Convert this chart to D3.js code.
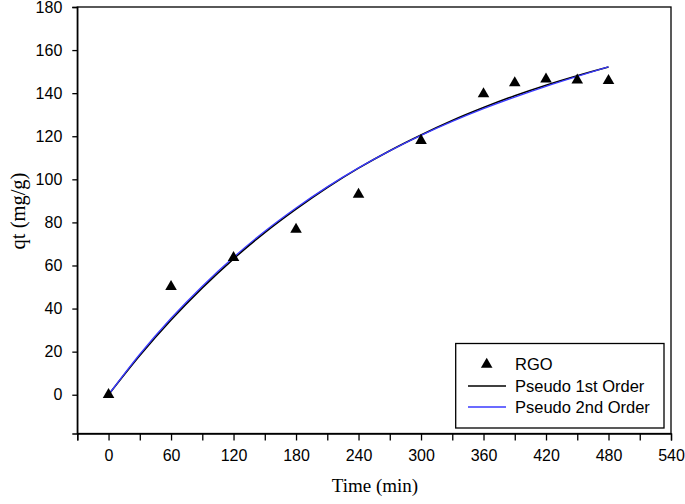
<!DOCTYPE html>
<html><head><meta charset="utf-8">
<script src="https://cdn.jsdelivr.net/npm/d3@7"></script>
<style>body{margin:0;background:#fff}svg{display:block}</style>
</head><body>
<svg id="c" width="685" height="504"></svg>
<script>
// Data
const timeData = [0, 60, 120, 180, 240, 300, 360, 390, 420, 450, 480];
const qtData   = [0, 50.2, 63.6, 76.7, 93.0, 118.0, 139.7, 144.8, 146.5, 146.0, 145.8];
const fitTime  = [0, 30, 60, 90, 120, 150, 180, 210, 240, 270, 300, 330, 360, 390, 420, 450, 480];
const pfo      = [0, 18.2, 34.7, 49.6, 63.1, 75.3, 86.2, 96.2, 105.2, 113.3, 120.6, 127.3, 133.3, 138.8, 143.7, 148.1, 152.1];
const pso      = [0, 18.8, 35.5, 50.4, 63.8, 75.9, 86.7, 96.5, 105.3, 113.2, 120.4, 126.9, 132.8, 138.2, 143.2, 147.8, 152.2];
const xTicks   = [-30, 0, 30, 60, 90, 120, 150, 180, 210, 240, 270, 300, 330, 360, 390, 420, 450, 480, 510, 540];
const xLabels  = [0, 60, 120, 180, 240, 300, 360, 420, 480, 540];
const yTicks   = [0, 20, 40, 60, 80, 100, 120, 140, 160, 180];
const legendLabels = ["RGO", "Pseudo 1st Order", "Pseudo 2nd Order"];

const svg = d3.select("#c");
const L = 77.3, R = 671, T = 7, B = 433.5;
const x = d3.scaleLinear().domain([-30, 540]).range([L, R]);
const y = d3.scaleLinear().domain([-18, 180]).range([B, T]);
const sans = "'Liberation Sans', Arial, sans-serif";
const serif = "'Liberation Serif', 'Times New Roman', serif";

// Frame
svg.append("rect").attr("x", L).attr("y", T).attr("width", R - L).attr("height", B - T)
  .attr("fill", "none").attr("stroke", "#000").attr("stroke-width", 1.3);

// X axis
const xAxis = d3.axisBottom(x).tickValues(xTicks).tickSize(7).tickPadding(9)
  .tickFormat(d => xLabels.includes(d) ? d : "");
const gx = svg.append("g").attr("transform", `translate(0,${B})`).call(xAxis);
gx.select(".domain").attr("stroke-width", 1.3);
gx.selectAll(".tick line").attr("stroke-width", 1.3);
gx.selectAll("text").attr("font-family", sans).attr("font-size", 16).attr("fill", "#000");

// Y axis
const yAxis = d3.axisLeft(y).tickValues(yTicks).tickSize(5).tickPadding(10);
const gy = svg.append("g").attr("transform", `translate(${L},0)`).call(yAxis);
gy.select(".domain").attr("stroke-width", 1.3);
gy.selectAll(".tick line").attr("stroke-width", 1.3);
gy.selectAll("text").attr("font-family", sans).attr("font-size", 16).attr("fill", "#000");

// Axis titles
svg.append("text").attr("x", 375).attr("y", 492).attr("text-anchor", "middle")
  .attr("font-family", serif).attr("font-size", 19).text("Time (min)");
svg.append("text").attr("transform", "translate(25,211) rotate(-90)").attr("text-anchor", "middle")
  .attr("font-family", serif).attr("font-size", 20.5).text("qt (mg/g)");

// Fit lines
const line = d3.line().curve(d3.curveMonotoneX);
svg.append("path").attr("d", line(fitTime.map((t, i) => [x(t), y(pfo[i])])))
  .attr("fill", "none").attr("stroke", "#000").attr("stroke-width", 1.6);
svg.append("path").attr("d", line(fitTime.map((t, i) => [x(t), y(pso[i])])))
  .attr("fill", "none").attr("stroke", "#3a3aff").attr("stroke-width", 1.3);

// Points
const tri = d3.symbol().type(d3.symbolTriangle).size(58);
svg.append("g").selectAll("path").data(timeData).join("path")
  .attr("transform", (d, i) => `translate(${x(d)},${y(qtData[i])})`)
  .attr("d", tri).attr("fill", "#000");

// Legend
const lg = svg.append("g");
lg.append("rect").attr("x", 455.7).attr("y", 343.5).attr("width", 208.3).attr("height", 84.5)
  .attr("fill", "#fff").attr("stroke", "#000").attr("stroke-width", 1.3);
lg.append("path").attr("transform", "translate(486.7,364.5)").attr("d", tri).attr("fill", "#000");
lg.append("line").attr("x1", 468).attr("x2", 506).attr("y1", 386).attr("y2", 386)
  .attr("stroke", "#000").attr("stroke-width", 1.5);
lg.append("line").attr("x1", 468).attr("x2", 506).attr("y1", 407).attr("y2", 407)
  .attr("stroke", "#3a3aff").attr("stroke-width", 1.3);
lg.selectAll("text.l").data(legendLabels).join("text").attr("class", "l")
  .attr("x", 515).attr("y", (d, i) => 364.5 + i * 21.3).attr("dy", "0.35em")
  .attr("font-family", sans).attr("font-size", 16.5).text(d => d);
</script>
</body></html>
